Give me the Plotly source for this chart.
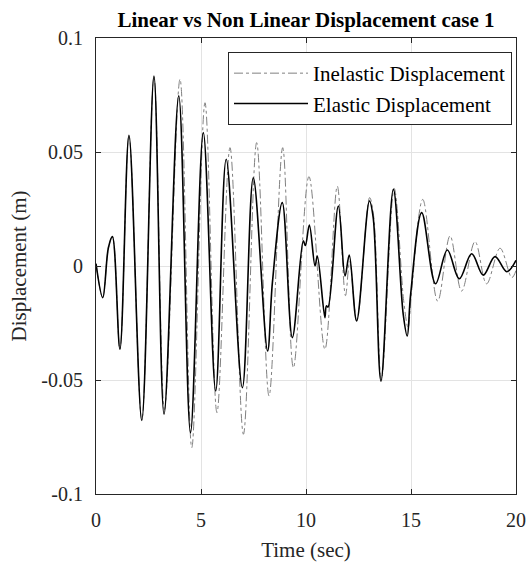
import plotly.graph_objects as go

# Elastic displacement (black solid) - key points
elastic_t = [0, 0.32, 0.59, 0.78, 1.14, 1.57, 2.18, 2.76, 3.24, 3.94, 4.50, 5.11, 5.70,
             6.20, 6.97, 7.49, 8.17, 8.40, 8.87, 9.35, 9.87, 9.97, 10.16, 10.43, 10.54,
             10.90, 10.97, 11.05, 11.54, 11.86, 12.06, 12.41, 13.02, 13.20, 13.57, 14.16,
             14.63, 14.82, 14.98, 15.51, 16.17, 16.73, 17.30, 17.89, 18.44, 19.00, 19.56, 20.0]
elastic_d = [0.001, -0.0139, 0.008, 0.0129, -0.0365, 0.0573, -0.0677, 0.0833, -0.065, 0.0746,
             -0.0731, 0.0585, -0.0548, 0.0468, -0.0534, 0.0387, -0.0373, -0.0073, 0.0278,
             -0.0314, 0.011, 0.009, 0.018, 0.0, 0.0044, -0.0227, -0.0175, -0.018, 0.0263,
             -0.0044, 0.0048, -0.0241, 0.0285, 0.0212, -0.0505, 0.0336, -0.0212, -0.0307,
             -0.0127, 0.0234, -0.0078, 0.007, -0.0056, 0.0054, -0.004, 0.0041, -0.0025, 0.0025]

# Inelastic displacement (gray dash-dot)
inelastic_t = [0, 0.32, 0.59, 0.78, 1.14, 1.57, 2.18, 2.76, 3.26, 4.00, 4.56, 5.19, 5.76,
               6.38, 7.02, 7.65, 8.24, 8.89, 9.40, 10.14, 10.90, 11.49, 11.88, 12.08, 12.42,
               13.03, 13.22, 13.59, 14.20, 14.66, 14.86, 15.02, 15.56, 16.27, 16.86, 17.41,
               18.05, 18.60, 19.24, 19.80, 20.0]
inelastic_d = [0.001, -0.0139, 0.008, 0.0129, -0.0365, 0.0573, -0.0677, 0.0833, -0.063,
               0.0819, -0.0797, 0.0716, -0.0643, 0.0519, -0.0738, 0.0541, -0.057, 0.0519,
               -0.0446, 0.0392, -0.0365, 0.035, -0.013, 0.002, -0.024, 0.030, 0.022, -0.050,
               0.034, -0.016, -0.027, -0.012, 0.0292, -0.0154, 0.0132, -0.011, 0.0107,
               -0.0078, 0.0078, -0.0051, -0.002]

x_ticks = [0, 5, 10, 15, 20]
y_ticks = [-0.1, -0.05, 0, 0.05, 0.1]
y_tick_labels = ["-0.1", "-0.05", "0", "0.05", "0.1"]

FONT = "Liberation Serif, Times New Roman, serif"
FS = 20

fig = go.Figure()
fig.add_trace(go.Scatter(
    x=inelastic_t, y=inelastic_d, mode="lines", name="Inelastic Displacement",
    line=dict(color="#808080", width=1, dash="dashdot", shape="spline"),
))
fig.add_trace(go.Scatter(
    x=elastic_t, y=elastic_d, mode="lines", name="Elastic Displacement",
    line=dict(color="black", width=1.6, shape="spline"),
))

fig.update_layout(
    width=526, height=562,
    margin=dict(l=96, r=10, t=38, b=68, autoexpand=False),
    paper_bgcolor="white", plot_bgcolor="white",
    font=dict(family=FONT, size=FS, color="#262626"),
    title=dict(text="<b>Linear vs Non Linear Displacement case 1</b>",
               x=(96 + 516) / 2 / 526, xanchor="center", y=1 - 20 / 562, yanchor="middle",
               font=dict(family=FONT, size=21, color="black")),
    showlegend=True,
    legend=dict(x=(512 - 96) / 420, y=(494 - 52) / 456, xanchor="right", yanchor="top",
                bgcolor="white", bordercolor="#262626", borderwidth=1,
                font=dict(family=FONT, size=21, color="black"),
                itemwidth=74, tracegroupgap=0),
)
fig.update_xaxes(
    range=[0, 20], tickvals=x_ticks, ticks="inside", ticklen=5, tickcolor="#262626",
    showline=True, linecolor="#262626", linewidth=1, mirror="ticks",
    showgrid=True, gridcolor="#e3e3e3", gridwidth=1, zeroline=False, automargin=False,
    title=dict(text="Time (sec)", standoff=12, font=dict(family=FONT, size=21)),
    ticklabelstandoff=8,
)
fig.update_yaxes(
    range=[-0.1, 0.1], tickvals=y_ticks, ticktext=y_tick_labels, ticks="inside", ticklen=5,
    tickcolor="#262626",
    showline=True, linecolor="#262626", linewidth=1, mirror="ticks",
    showgrid=True, gridcolor="#e3e3e3", gridwidth=1, zeroline=False, automargin=False,
    title=dict(text="Displacement (m)", standoff=8, font=dict(family=FONT, size=21)),
    ticklabelstandoff=8,
)

fig.write_html("out.html", config={"displayModeBar": False},
               post_script="document.body.style.margin='0';")
